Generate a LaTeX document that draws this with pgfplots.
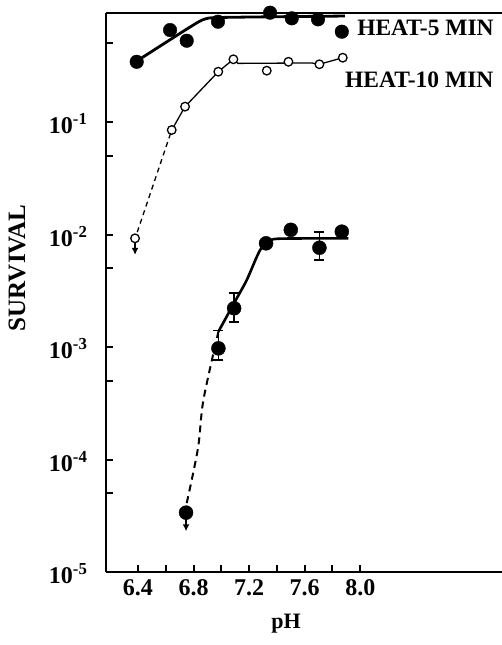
\documentclass[border=0pt]{standalone}
\usepackage{pgfplots}
\pgfplotsset{compat=1.18}
\usepackage{fontspec}
\setmainfont{Liberation Serif}
\usetikzlibrary{arrows.meta}

\begin{document}
\begin{tikzpicture}
\useasboundingbox (0,0) rectangle (502pt,645pt);
\begin{axis}[
  at={(106pt,73pt)}, anchor=south west,
  scale only axis, width=396pt, height=559pt,
  xmin=6.17, xmax=9.02,
  ymode=log, ymin=1e-5, ymax=0.931,
  axis x line*=box, axis y line*=left,
  axis line style={line width=2.4pt},
  xtick pos=bottom, ytick pos=left,
  tick align=inside,
  major tick length=7pt, minor tick length=7pt,
  every tick/.style={line width=2pt, black},
  xtick={6.4,6.8,7.2,7.6,8.0},
  xticklabels={6.4,6.8,7.2,7.6,8.0},
  minor xtick={6.6,7.0,7.4,7.8},
  ytick={1e-5,1e-4,1e-3,1e-2,1e-1},
  yticklabels={10\textsuperscript{-5},10\textsuperscript{-4},10\textsuperscript{-3},10\textsuperscript{-2},10\textsuperscript{-1}},
  minor ytick={5e-5,5e-4,5e-3,5e-2,5e-1},
  ticklabel style={font=\fontsize{24}{26}\selectfont\bfseries},
  xticklabel style={yshift=-4pt},
  yticklabel style={xshift=-15pt, yshift=-2pt},
  xlabel={pH},
  xlabel style={font=\fontsize{22}{24}\selectfont\bfseries, at={(rel axis cs:0.4545,0)}, anchor=center, yshift=-52pt},
  ylabel={SURVIVAL},
  ylabel style={font=\fontsize{25}{28}\selectfont\bfseries, at={(rel axis cs:-0.2247,0.544)}, anchor=center},
  clip=false,
]
% HEAT-5 MIN
\addplot[black, line width=2.8pt, smooth, tension=0.3] coordinates {(6.367,0.333)(6.703,0.614)(6.847,0.79)(6.93,0.845)(7.3,0.86)(7.89,0.875)};
\addplot[only marks, mark=*, mark size=6.8pt, black] coordinates {
(6.391,0.343)(6.631,0.657)(6.751,0.528)(6.976,0.779)(7.351,0.937)(7.507,0.835)(7.696,0.818)(7.867,0.635)};
% HEAT-10 MIN
\addplot[black, line width=1.3pt, dash pattern=on 5pt off 4pt] coordinates {(6.395,0.0105)(6.643,0.0849)};
\addplot[black, line width=1.3pt] coordinates {(6.643,0.0849)(6.739,0.137)(6.978,0.28)(7.087,0.361)(7.12,0.332)(7.65,0.335)(7.706,0.326)(7.874,0.373)};
\addplot[black, line width=1.2pt, -{Latex[length=7pt,width=7pt]}] coordinates {(6.379,0.0085)(6.379,0.0066)};
\addplot[only marks, mark=*, mark size=4.3pt, mark options={fill=white, draw=black, line width=1.3pt}] coordinates {
(6.379,0.00925)(6.643,0.0849)(6.739,0.137)(6.978,0.280)(7.087,0.361)(7.327,0.286)(7.483,0.343)(7.706,0.326)(7.874,0.373)};
% lower curve
\addplot[black, line width=2pt, dash pattern=on 7pt off 5pt, smooth] coordinates {(6.751,4.1e-5)(6.832,1.26e-4)(6.871,3.38e-4)(6.979,1.37e-3)};
\addplot[black, line width=2.6pt, smooth, tension=0.4] coordinates {(6.979,1.37e-3)(7.092,2.46e-3)(7.183,3.94e-3)(7.279,7.28e-3)(7.36,8.95e-3)(7.46,9.2e-3)(7.915,9.25e-3)};
\addplot[black, line width=1.5pt, -{Latex[length=7pt,width=7pt]}] coordinates {(6.746,3.0e-5)(6.746,2.3e-5)};
\addplot[only marks, mark=*, mark size=7pt, black] coordinates {
(6.746,3.37e-5)(7.322,8.35e-3)(7.50,1.10e-2)(7.867,1.06e-2)};
\addplot[only marks, mark=*, mark size=7pt, black,
  error bars/.cd, y dir=both, y explicit, error bar style={line width=1.8pt},
  error mark options={rotate=90, line width=1.8pt, mark size=5pt, black}]
  table[x=x, y=y, y error plus=ep, y error minus=em] {
x y ep em
6.979 9.73e-4 4.27e-4 2.07e-4
7.092 2.21e-3 0.81e-3 0.53e-3
7.706 7.63e-3 2.87e-3 1.70e-3
};
\node[anchor=west, font=\fontsize{23.5}{26}\selectfont\bfseries, inner sep=0pt] at (axis cs:7.977,0.685) {HEAT-5 MIN};
\node[anchor=west, font=\fontsize{23.5}{26}\selectfont\bfseries, inner sep=0pt] at (axis cs:7.890,0.236) {HEAT-10 MIN};
\end{axis}
\end{tikzpicture}
\end{document}
